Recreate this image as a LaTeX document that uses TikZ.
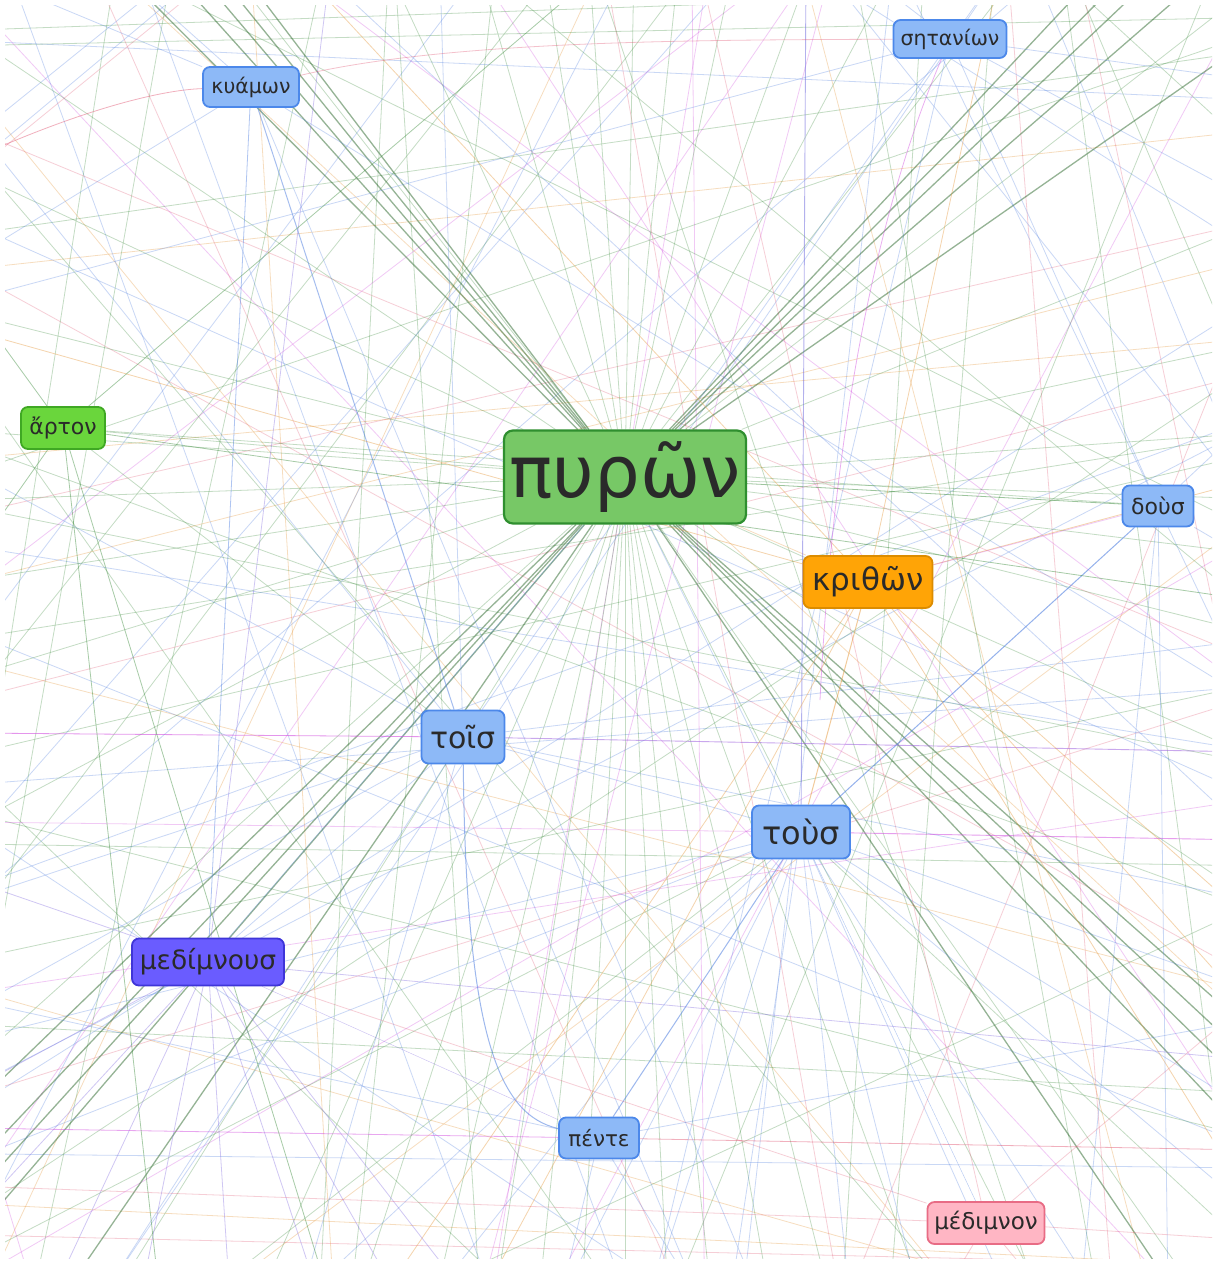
\documentclass[tikz,border=0pt]{standalone}
\usepackage{fontspec}
\newfontfamily\gf{DejaVu Sans}
\usetikzlibrary{calc,backgrounds}
\definecolor{txt}{HTML}{2A2A2A}
\definecolor{nblue}{HTML}{8DB9F7}
\definecolor{nblueD}{HTML}{4C88EA}
\definecolor{ngreen}{HTML}{77C866}
\definecolor{ngreenD}{HTML}{2F8F2F}
\definecolor{nlime}{HTML}{6AD63C}
\definecolor{nlimeD}{HTML}{3FA823}
\definecolor{norange}{HTML}{FFA406}
\definecolor{norangeD}{HTML}{DC8C00}
\definecolor{nviolet}{HTML}{6A5CFF}
\definecolor{nvioletD}{HTML}{3F35D8}
\definecolor{npink}{HTML}{FFB6C4}
\definecolor{npinkD}{HTML}{E86C85}
\definecolor{eg}{HTML}{3C8C3C}
\definecolor{eb}{HTML}{4F7FE0}
\definecolor{em}{HTML}{D24FE0}
\definecolor{eo}{HTML}{E8A04A}
\definecolor{er}{HTML}{E0506E}
\begin{document}
\begin{tikzpicture}[x=1pt,y=-1pt,
  wbox/.style={draw, line width=1.8pt, inner sep=0pt, text=txt, rounded corners=7pt},
  bnode/.style={wbox, fill=nblue, draw=nblueD},
  fg/.style={draw=eg, opacity=0.3, line width=0.8pt},
  fb/.style={draw=eb, opacity=0.3, line width=0.8pt},
  fm/.style={draw=em, opacity=0.3, line width=0.8pt},
  fo/.style={draw=eo, opacity=0.35, line width=0.8pt},
  fr/.style={draw=er, opacity=0.28, line width=0.8pt},
  darkg/.style={draw=eg!75!black, opacity=0.5, line width=1.3pt},
  bg0/.style={fg}, bg1/.style={fg}, bg2/.style={fg},
  bg3/.style={fb}, bg4/.style={fb}, bg5/.style={fm},
  bg6/.style={fo}, bg7/.style={fr}]
\useasboundingbox (0,0) rectangle (1215,1263);

% ---------- nodes ----------
\node[bnode, minimum width=96pt, minimum height=40pt, font=\gf\fontsize{20.5}{24}\selectfont] (kya) at (251,87) {κυάμων};
\node[bnode, minimum width=113pt, minimum height=38pt, font=\gf\fontsize{20.5}{24}\selectfont] (spt) at (950,39) {σητανίων};
\node[wbox, fill=nlime, draw=nlimeD, minimum width=84pt, minimum height=42pt, font=\gf\fontsize{22}{25}\selectfont] (art) at (63,428) {ἄρτον};
\node[wbox, fill=ngreen, draw=ngreenD, rounded corners=9pt, line width=2.2pt, minimum width=242pt, minimum height=93pt, font=\gf\fontsize{72}{76}\selectfont] (pyr) at (625,477) {πυρῶν};
\node[bnode, minimum width=71pt, minimum height=41pt, font=\gf\fontsize{22}{25}\selectfont] (dous) at (1158,506) {δοὺσ};
\node[wbox, fill=norange, draw=norangeD, minimum width=129pt, minimum height=52pt, font=\gf\fontsize{31}{34}\selectfont] (krith) at (868,582) {κριθῶν};
\node[bnode, minimum width=83pt, minimum height=53pt, font=\gf\fontsize{30}{34}\selectfont] (tois) at (463,737) {τοῖσ};
\node[bnode, minimum width=98pt, minimum height=53pt, font=\gf\fontsize{32}{36}\selectfont] (tous) at (801,832) {τοὺσ};
\node[wbox, fill=nviolet, draw=nvioletD, minimum width=152pt, minimum height=47pt, font=\gf\fontsize{26.5}{30}\selectfont] (med) at (208,962) {μεδίμνουσ};
\node[bnode, minimum width=80pt, minimum height=41pt, font=\gf\fontsize{21.5}{24}\selectfont] (pente) at (599,1138) {πέντε};
\node[wbox, fill=npink, draw=npinkD, minimum width=117pt, minimum height=42pt, font=\gf\fontsize{23}{26}\selectfont] (medn) at (986,1223) {μέδιμνον};

% ---------- connectors ----------
\begin{pgfonlayer}{background}
\fill[white] (0,0) rectangle (1215,1263);
\begin{scope}
\clip (5,6) rectangle (1212,1258);

% background connectors between off-picture ends
\pgfmathsetseed{4321}
\foreach \i in {1,...,95}{
  \pgfmathsetmacro\cx{rnd*1215}
  \pgfmathsetmacro\cy{rnd*1263}
  \pgfmathsetmacro\th{rnd*180}
  \pgfmathtruncatemacro\k{mod(\i,8)}
  \coordinate (bgA\i) at ($(\cx,\cy)+(\th:1900)$);
  \coordinate (bgB\i) at ($(\cx,\cy)+(\th+180:1900)$);
  \draw[bg\k] (bgA\i) -- (bgB\i);
}

% πυρῶν: dark bundles
\foreach \gx/\gy [count=\n] in {170/-30,195/-30,215/-30,240/-30,120/-30,
    1100/-30,1130/-30,1160/-30,1210/-30,1250/40,
    -30/1170,-30/1200,-30/1240,60/1300,-30/1110,
    1250/1030,1250/1060,1250/1090,1250/1140,1180/1300}{
  \coordinate (pd\n) at (\gx,\gy);
  \draw[darkg] (pyr) -- (pd\n);
}
% πυρῶν: faint radial
\foreach \a [count=\n] in {-176,-166,-155,-146,-128,-115,-106,-99,-94,-89,-84,-78,-70,-62,-52,-38,-22,-12,-4,2,7,14,24,34,55,63,70,76,80,84,87,90,93,96,99,103,108,114,122,138,152,163,171,178}{
  \path (pyr) ++(\a:1700) coordinate (pf\n);
  \draw[fg] (pyr) -- (pf\n);
}
\draw[fg, opacity=0.5] (pyr) -- (dous);
\draw[fb] (pyr) -- (tous);
\draw[fb] (pyr) -- (med);
\draw[fo] (pyr) -- (krith);

% τοῖσ
\coordinate (tL) at (-30,733);
\coordinate (tR) at (1250,752);
\draw[fm, opacity=0.6] (tL) -- (tois);
\draw[draw=em!60!eb, opacity=0.55, line width=0.9pt] (tois) -- (tR);
\draw[draw=eb, opacity=0.55, line width=1pt] (tois) .. controls (466,1040) and (500,1115) .. (pente);
\draw[draw=eb, opacity=0.5, line width=1pt] (tois) -- (kya);
\foreach \gx/\gy [count=\n] in {440/-30,-30/470,-30/900,-30/1010,100/1300,300/1300,1250/900,1250/640,1000/-30,-30/120,700/1300}{
  \coordinate (tg\n) at (\gx,\gy);
  \draw[fb] (tois) -- (tg\n);
}
\draw[fb] (tois) -- (tous);
\draw[fb] (tois) -- (med);
\draw[fg] (tois) -- (art);

% τοὺσ
\coordinate (uR) at (1250,840);
\coordinate (uL) at (-30,822);
\coordinate (uU) at (806,-30);
\draw[draw=em, opacity=0.55, line width=0.9pt] (tous) -- (uR);
\draw[fm] (uL) -- (tous);
\draw[draw=eb!70!em, opacity=0.55, line width=0.9pt] (tous) -- (uU);
\draw[draw=eb, opacity=0.6, line width=1pt] (tous) -- (dous);
\draw[draw=eb, opacity=0.55, line width=1pt] (tous) -- (pente);
\draw[draw=eb, opacity=0.45] (tous) -- (medn);
\foreach \gx/\gy [count=\n] in {300/1300,430/1300,560/1300,650/1300,730/1300,850/1300,920/1300,1010/1300,1100/1300,1250/1210,1250/1110,1250/990,-30/1160,-30/1040}{
  \coordinate (ug\n) at (\gx,\gy);
  \draw[fb] (tous) -- (ug\n);
}
\foreach \gx/\gy [count=\n] in {1250/1250,200/1300,-30/1260}{
  \coordinate (ugg\n) at (\gx,\gy);
  \draw[fg] (tous) -- (ugg\n);
}

% κριθῶν
\foreach \gx/\gy [count=\n] in {480/1300,380/1300,1250/1010,1250/920,1250/1200,300/-30,-30/330,1000/-30,1250/480}{
  \coordinate (kg\n) at (\gx,\gy);
  \draw[fo, opacity=0.45] (krith) -- (kg\n);
}
\draw[fo, opacity=0.55, line width=1pt] (krith) -- (tous);
\draw[fm] (krith) -- (dous);

% δοὺσ
\foreach \gx/\gy [count=\n] in {1168/1300,1250/420,1250/560,1250/700,1080/1300,900/-30}{
  \coordinate (dg\n) at (\gx,\gy);
  \draw[fb] (dous) -- (dg\n);
}
\draw[fb] (dous) -- (spt);
\draw[fg] (dous) -- (art);

% μεδίμνουσ
\foreach \gx/\gy [count=\n] in {470/1300,400/1300,320/1300,230/1300,140/1300,50/1300,-30/1220,-30/1090,-30/880,1250/1060,330/-30}{
  \coordinate (mg\n) at (\gx,\gy);
  \draw[draw=eb!60!em, opacity=0.38, line width=0.8pt] (med) -- (mg\n);
}
\draw[draw=eb!60!em, opacity=0.45] (med) -- (pente);
\draw[fr] (med) -- (medn);

% πέντε
\coordinate (pL) at (-30,1128);
\coordinate (pR) at (1250,1150);
\draw[fm, opacity=0.5] (pL) -- (pente);
\draw[fr, opacity=0.45] (pente) -- (pR);
\foreach \gx/\gy [count=\n] in {560/1300,700/1300,-30/1000,1250/1020}{
  \coordinate (ng\n) at (\gx,\gy);
  \draw[fb] (pente) -- (ng\n);
}

% μέδιμνον
\foreach \gx/\gy [count=\n] in {-30/1186,1250/1240,940/1300,1050/1300,700/-30,1250/1000}{
  \coordinate (eg\n) at (\gx,\gy);
  \draw[fr] (medn) -- (eg\n);
}

% κυάμων
\draw[fb, opacity=0.45] (kya) -- (med);
\coordinate (kaL) at (-30,160);
\draw[fr, opacity=0.45] (kaL) .. controls (80,110) and (160,90) .. (kya);
\draw[fr, opacity=0.35] (kya) .. controls (450,40) and (700,40) .. (spt);
\foreach \gx/\gy [count=\n] in {-30/-30,-30/260,760/1300,1250/700,120/-30}{
  \coordinate (yg\n) at (\gx,\gy);
  \draw[fb] (kya) -- (yg\n);
}

% σητανίων
\foreach \gx/\gy [count=\n] in {650/1300,-30/300,1250/200,860/-30,1250/80}{
  \coordinate (sg\n) at (\gx,\gy);
  \draw[fb] (spt) -- (sg\n);
}
\coordinate (sp1) at (820,700);
\draw[fm, opacity=0.45] (spt) .. controls (860,250) and (830,500) .. (sp1);

% ἄρτον
\foreach \gx/\gy [count=\n] in {-30/300,330/1300,1250/600,-30/560,600/-30,160/1300}{
  \coordinate (ag\n) at (\gx,\gy);
  \draw[fg, opacity=0.45] (art) -- (ag\n);
}
\draw[fg] (art) -- (pyr);
\end{scope}
\end{pgfonlayer}
\end{tikzpicture}
\end{document}
